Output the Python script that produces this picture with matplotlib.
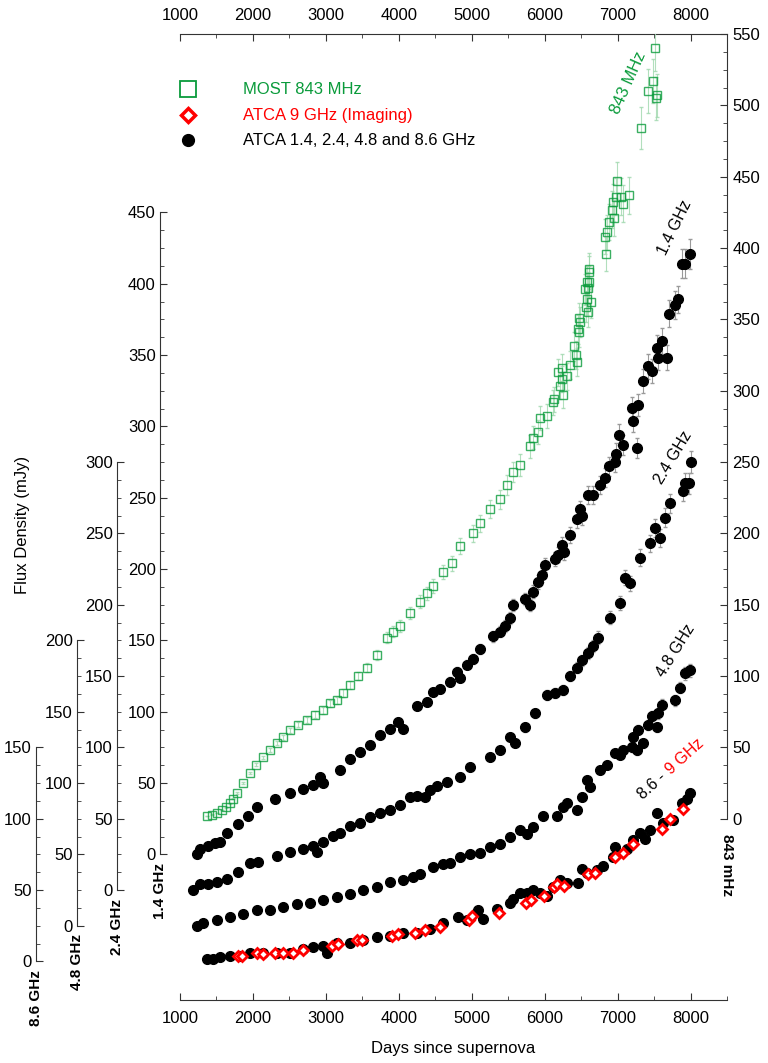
import matplotlib
matplotlib.use('Agg')
import matplotlib.pyplot as plt
import numpy as np
from matplotlib.transforms import blended_transform_factory, offset_copy

plt.rcParams['font.family'] = ['Liberation Sans', 'DejaVu Sans']

# MOST 843 MHz (right-hand scale)
d843 = [1370, 1440, 1505, 1575, 1630, 1685, 1730, 1780, 1865, 1960, 2040, 2140, 2235, 2330,
        2410, 2510, 2620, 2740, 2850, 2960, 3055, 3155, 3235, 3330, 3440, 3565, 3700, 3840,
        3920, 4015, 4155, 4290, 4385, 4470, 4605, 4730, 4840, 5020, 5115, 5250, 5390, 5485,
        5565, 5660, 5800, 5840, 5910, 5935, 6030, 6115, 6130, 6180, 6210, 6240, 6240, 6250,
        6305, 6350, 6400, 6430, 6445, 6455, 6470, 6470, 6485, 6555, 6565, 6580, 6580, 6595,
        6595, 6605, 6610, 6610, 6635, 6830, 6840, 6855, 6880, 6925, 6935, 6950, 6980, 6990,
        7045, 7075, 7155, 7320, 7415, 7485, 7515, 7525, 7540]
f843 = [2, 3, 4, 6, 8, 11, 14, 18, 25, 32, 38, 43, 48, 53,
        57, 62, 66, 69, 73, 76, 81, 83, 88, 94, 100, 106, 115, 127,
        131, 135, 144, 152, 158, 163, 173, 179, 191, 200, 207, 217, 224, 234,
        243, 248, 261, 267, 271, 281, 282, 292, 294, 313, 303, 308, 316, 297,
        310, 318, 331, 325, 320, 343, 341, 351, 348, 371, 359, 364, 376, 355,
        372, 376, 383, 385, 362, 408, 396, 411, 418, 427, 432, 421, 436, 447,
        436, 431, 437, 484, 510, 517, 540, 505, 507]

# ATCA 1.4 GHz
d14 = [1235, 1275, 1385, 1480, 1550, 1645, 1795, 1930, 2055, 2305, 2510, 2690, 2825, 2920,
       2960, 3195, 3330, 3470, 3605, 3740, 3880, 3990, 4060, 4250, 4385, 4470, 4565, 4700,
       4800, 4840, 4935, 5020, 5115, 5290, 5390, 5455, 5525, 5565, 5730, 5800, 5840, 5910,
       5965, 6005, 6140, 6185, 6240, 6265, 6350, 6445, 6485, 6510, 6595, 6665, 6760, 6830,
       6880, 6965, 6980, 7020, 7075, 7200, 7210, 7265, 7280, 7350, 7415, 7470, 7540, 7555,
       7610, 7680, 7705, 7790, 7830, 7885, 7925, 7995]
f14 = [0, 4, 6, 8, 9, 15, 21, 27, 33, 39, 43, 46, 49, 54,
       50, 59, 67, 72, 77, 84, 88, 93, 88, 104, 107, 114, 116, 121,
       128, 124, 133, 137, 144, 153, 156, 160, 166, 175, 179, 175, 184, 191,
       196, 203, 207, 210, 217, 212, 224, 235, 242, 237, 252, 252, 259, 264,
       272, 275, 281, 294, 287, 313, 304, 285, 315, 332, 342, 339, 355, 348,
       360, 348, 379, 385, 389, 414, 414, 421]

# ATCA 2.4 GHz
d24 = [1180, 1275, 1385, 1505, 1645, 1795, 1960, 2070, 2330, 2510, 2690, 2825, 2880, 2960,
       3100, 3195, 3330, 3470, 3605, 3740, 3880, 4015, 4155, 4250, 4360, 4430, 4525, 4660,
       4840, 4975, 5250, 5390, 5525, 5595, 5730, 5870, 6030, 6140, 6250, 6350, 6445, 6510,
       6595, 6665, 6730, 6895, 7035, 7100, 7170, 7305, 7445, 7515, 7580, 7650, 7720, 7895,
       7925, 7980, 8005]
f24 = [0, 4, 4, 6, 8, 13, 19, 20, 24, 27, 29, 31, 27, 34,
       38, 40, 45, 47, 51, 54, 56, 60, 65, 66, 65, 70, 73, 76,
       79, 86, 93, 98, 107, 103, 114, 124, 137, 138, 140, 150, 156, 161,
       166, 171, 177, 191, 201, 219, 215, 233, 243, 254, 247, 261, 271, 280,
       285, 285, 300]

# ATCA 4.8 GHz
d48 = [1235, 1315, 1505, 1685, 1865, 2055, 2235, 2410, 2605, 2785, 2960, 3155, 3330, 3510,
       3700, 3880, 4060, 4195, 4290, 4470, 4605, 4700, 4840, 4975, 5115, 5250, 5390, 5525,
       5660, 5760, 5840, 5975, 6170, 6250, 6305, 6445, 6510, 6580, 6620, 6760, 6855, 6965,
       7035, 7075, 7200, 7210, 7265, 7280, 7350, 7415, 7470, 7540, 7555, 7610, 7790, 7855,
       7925, 7995]
f48 = [0, 2, 4, 6, 8, 11, 11, 13, 15, 16, 18, 20, 22, 25,
       27, 31, 32, 34, 36, 41, 43, 44, 48, 50, 51, 55, 57, 62,
       67, 64, 69, 77, 77, 83, 86, 81, 90, 102, 97, 109, 113, 121,
       120, 123, 125, 132, 123, 137, 128, 141, 147, 139, 149, 155, 158, 167,
       177, 179]

# ATCA 8.6 GHz
d86 = [1370, 1455, 1550, 1685, 1825, 1960, 2140, 2330, 2510, 2690, 2825, 2960, 3015, 3155,
       3330, 3510, 3700, 3880, 4060, 4250, 4430, 4605, 4810, 4935, 5085, 5155, 5345, 5525,
       5565, 5660, 5760, 5840, 5935, 6030, 6115, 6210, 6305, 6455, 6510, 6580, 6720, 6800,
       6935, 6965, 7130, 7210, 7305, 7375, 7445, 7540, 7625, 7760, 7885, 7950, 7995]
f86 = [2, 2, 3, 4, 4, 6, 6, 6, 6, 9, 10, 11, 6, 13,
       13, 15, 17, 18, 20, 20, 23, 27, 31, 29, 36, 30, 37, 41,
       44, 48, 48, 50, 48, 46, 52, 57, 55, 55, 65, 62, 64, 67,
       73, 80, 79, 85, 90, 86, 92, 104, 97, 99, 111, 114, 118]

# ATCA 9 GHz (imaging), on the 8.6 GHz scale
d9 = [1795, 1850, 2055, 2140, 2305, 2410, 2550, 2690, 3085, 3165, 3425, 3495, 3905, 3990,
      4220, 4360, 4565, 4965, 5005, 5375, 5745, 5815, 5990, 6130, 6170, 6265, 6595, 6690,
      6965, 7075, 7210, 7610, 7720, 7895]
f9 = [4, 4, 6, 5, 6, 6, 6, 8, 11, 12, 15, 15, 18, 19,
      20, 22, 24, 29, 32, 34, 41, 43, 46, 52, 54, 53, 61, 62,
      73, 76, 82, 93, 100, 107]

band_names = ['1.4 GHz', '2.4 GHz', '4.8 GHz', '8.6 GHz']
band_offsets = [25, 50, 75, 100]
band_tops = [450, 300, 200, 150]
band_spine_x = [-0.0366, -0.1152, -0.1883, -0.2633]
band_days = [d14, d24, d48, d86]
band_flux = [f14, f24, f48, f86]

err_frac = 0.025
GREEN = '#0a9b3b'
RED = '#ff0000'
AXC = '#333333'

fig = plt.figure(figsize=(7.68, 10.63), dpi=100)
rect = [180 / 768, 63 / 1063, 547 / 768, 966 / 1063]
ax = fig.add_axes(rect)
ax.set_xlim(1000, 8500)
ax.set_ylim(-127, 550)

# green MOST data on the main axes
f843a = np.array(f843, dtype=float)
ax.errorbar(d843, f843a, yerr=f843a * 0.03, fmt='s', ms=6, mfc='none', mec=GREEN,
            mew=1.0, ecolor='#9fd8ad', elinewidth=0.8, capsize=1.2, alpha=0.8, zorder=3)

# offset axes for the ATCA bands
band_axes = []
for name, off, top, sx, d, f in zip(band_names, band_offsets, band_tops, band_spine_x,
                                    band_days, band_flux):
    b = fig.add_axes(rect, sharex=ax)
    b.patch.set_visible(False)
    b.set_ylim(-127 + off, 550 + off)
    for s in ['top', 'right', 'bottom']:
        b.spines[s].set_visible(False)
    b.spines['left'].set_position(('axes', sx))
    b.spines['left'].set_bounds(0, top)
    b.spines['left'].set_color(AXC)
    b.xaxis.set_visible(False)
    b.set_yticks(np.arange(0, top + 1, 50))
    b.set_yticks(np.arange(0, top + 0.1, 12.5), minor=True)
    b.tick_params(axis='y', which='both', direction='in', colors=AXC, labelcolor='black',
                  labelsize=12, pad=3)
    b.tick_params(axis='y', which='major', length=5)
    b.tick_params(axis='y', which='minor', length=3)
    fa = np.array(f, dtype=float)
    b.errorbar(d, fa, yerr=fa * err_frac, fmt='o', ms=7, color='black', ecolor='#9a9a9a',
               elinewidth=0.8, capsize=1.2, zorder=3)
    tr = blended_transform_factory(b.transAxes, b.transData)
    b.text(sx, -6, name, transform=tr, rotation=90, ha='center', va='top',
           fontsize=11, fontweight='bold')
    band_axes.append(b)

# 9 GHz imaging points over the 8.6 GHz series
band_axes[3].plot(d9, f9, 'D', ms=5.5, mfc='white', mec=RED, mew=2, zorder=4)

# main axes frame and ticks
ax.spines['left'].set_visible(False)
ax.spines['right'].set_bounds(0, 550)
for s in ['right', 'top', 'bottom']:
    ax.spines[s].set_color(AXC)
ax.yaxis.tick_right()
ax.set_yticks(np.arange(0, 551, 50))
ax.set_yticks(np.arange(0, 550.1, 12.5), minor=True)
ax.set_xticks(np.arange(1000, 8001, 1000))
ax.set_xticks(np.arange(1000, 8501, 500), minor=True)
ax.tick_params(axis='y', which='both', direction='in', left=False, right=True,
               labelleft=False, labelright=True, colors=AXC, labelcolor='black',
               labelsize=12, pad=4)
ax.tick_params(axis='x', which='both', direction='in', top=True, bottom=True,
               labeltop=True, labelbottom=True, colors=AXC, labelcolor='black',
               labelsize=12, pad=8)
ax.tick_params(which='major', length=5)
ax.tick_params(which='minor', length=3)

tr_r = blended_transform_factory(ax.transAxes, ax.transData)
ax.text(1.0, -11, '843 mHz', transform=tr_r, rotation=-90, ha='center', va='top',
        fontsize=11, fontweight='bold')

# curve labels
ax.text(7143, 516, '843 MHz', color=GREEN, fontsize=12, rotation=66,
        rotation_mode='anchor', ha='center', va='center')
band_axes[0].text(7790, 439, '1.4 GHz', fontsize=11.5, rotation=64,
                  rotation_mode='anchor', ha='center', va='center')
band_axes[1].text(7760, 303, '2.4 GHz', fontsize=11.5, rotation=59,
                  rotation_mode='anchor', ha='center', va='center')
band_axes[2].text(7800, 193, '4.8 GHz', fontsize=11.5, rotation=58,
                  rotation_mode='anchor', ha='center', va='center')
band_axes[3].text(7350, 113, '8.6 - ', fontsize=11.5, rotation=42,
                  rotation_mode='anchor', ha='left', va='baseline')
tr_9 = offset_copy(band_axes[3].transData, fig=fig, x=20, y=18, units='points')
band_axes[3].text(7350, 113, '9 GHz', transform=tr_9, color=RED, fontsize=11.5,
                  rotation=42, rotation_mode='anchor', ha='left', va='baseline')

# legend drawn by hand
leg_marks = [dict(marker='s', ms=11, mfc='none', mec=GREEN, mew=1.3),
             dict(marker='D', ms=7.5, mfc='white', mec=RED, mew=2.5),
             dict(marker='o', ms=8.5, mfc='black', mec='black')]
leg_labels = ['MOST 843 MHz', 'ATCA 9 GHz (Imaging)', 'ATCA 1.4, 2.4, 4.8 and 8.6 GHz']
leg_colors = [GREEN, RED, 'black']
leg_y = [0.943, 0.916, 0.890]
for mk, lab, col, yy in zip(leg_marks, leg_labels, leg_colors, leg_y):
    ax.plot([0.0146], [yy], transform=ax.transAxes, clip_on=False, linestyle='none', **mk)
    ax.text(0.1152, yy, lab, transform=ax.transAxes, color=col, fontsize=12,
            ha='left', va='center')

fig.text(453 / 768, 1 - 1049 / 1063, 'Days since supernova', ha='center', va='center',
         fontsize=12)
fig.text(23 / 768, 1 - 525 / 1063, 'Flux Density (mJy)', rotation=90, ha='center',
         va='center', fontsize=12)

fig.savefig('out.png', dpi=100)
